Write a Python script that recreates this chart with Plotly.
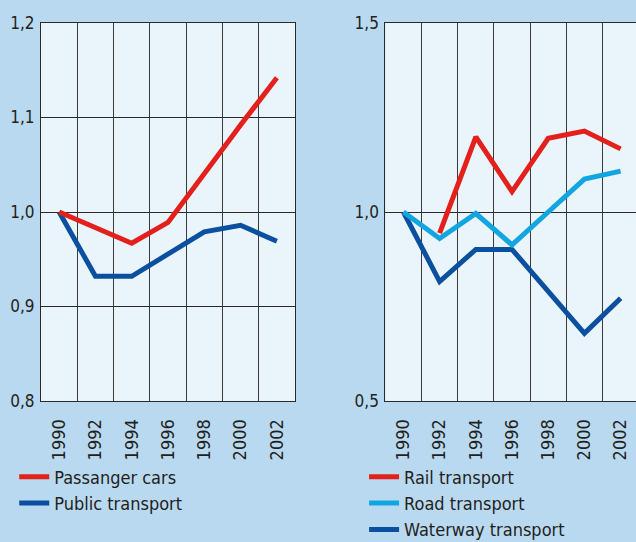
import plotly.graph_objects as go
from plotly.subplots import make_subplots

years = [1990, 1992, 1994, 1996, 1998, 2000, 2002]
year_labels = ['1990', '1992', '1994', '1996', '1998', '2000', '2002']
grid_years = [1989, 1991, 1993, 1995, 1997, 1999, 2001, 2003]

# left panel
passenger_cars = [1.0, 0.984, 0.967, 0.989, 1.041, 1.092, 1.142]
public_transport = [1.0, 0.932, 0.932, 0.956, 0.979, 0.986, 0.969]

# right panel
rail_transport = [None, 0.944, 1.199, 1.054, 1.195, 1.214, 1.167]
road_transport = [1.0, 0.930, 0.996, 0.913, 1.0, 1.087, 1.108]
waterway_transport = [1.0, 0.816, 0.901, 0.901, 0.790, 0.679, 0.772]

RED = '#e3201b'
DARK_BLUE = '#0b4f9f'
LIGHT_BLUE = '#12a6e0'
TEXT = '#231f20'
FONT = 'Liberation Sans Narrow, DejaVu Sans Condensed, Arial Narrow, sans-serif'

fig = make_subplots(rows=1, cols=2)

fig.add_trace(go.Scatter(x=years, y=public_transport, name='Public transport',
                         mode='lines', line=dict(color=DARK_BLUE, width=5),
                         legend='legend', legendrank=2), row=1, col=1)
fig.add_trace(go.Scatter(x=years, y=passenger_cars, name='Passanger cars',
                         mode='lines', line=dict(color=RED, width=5),
                         legend='legend', legendrank=1), row=1, col=1)

fig.add_trace(go.Scatter(x=years, y=waterway_transport, name='Waterway transport',
                         mode='lines', line=dict(color=DARK_BLUE, width=5),
                         legend='legend2', legendrank=3), row=1, col=2)
fig.add_trace(go.Scatter(x=years, y=road_transport, name='Road transport',
                         mode='lines', line=dict(color=LIGHT_BLUE, width=5),
                         legend='legend2', legendrank=2), row=1, col=2)
fig.add_trace(go.Scatter(x=years, y=rail_transport, name='Rail transport',
                         mode='lines', line=dict(color=RED, width=5),
                         legend='legend2', legendrank=1), row=1, col=2)

xcommon = dict(tickmode='array', tickvals=years, ticktext=year_labels,
               tickangle=-90, showgrid=False, zeroline=False,
               ticks='', ticklabelstandoff=10,
               tickfont=dict(size=18, color=TEXT),
               minor=dict(tickmode='array', tickvals=grid_years, showgrid=True,
                          gridcolor='#3a3a3a', gridwidth=1, ticks=''),
               showline=True, linecolor='#2a2a2a', linewidth=1)
ycommon = dict(showgrid=True, gridcolor='#2a2a2a', gridwidth=1, zeroline=False,
               ticks='', ticklabelstandoff=2, tickformat='.1f',
               tickfont=dict(size=17, color=TEXT),
               showline=True, linecolor='#2a2a2a', linewidth=1)

fig.update_xaxes(xcommon)
fig.update_yaxes(ycommon)

fig.update_xaxes(domain=[0, 0.4269], range=[1989, 2003], mirror=True, row=1, col=1)
fig.update_xaxes(domain=[0.5787, 1], range=[1989, 2002.85], mirror=True, row=1, col=2)
fig.update_yaxes(range=[0.8, 1.2], tickvals=[0.8, 0.9, 1.0, 1.1, 1.2],
                 mirror=True, row=1, col=1)
fig.update_yaxes(range=[0.5, 1.5], tickvals=[0.5, 1.0, 1.5],
                 mirror=False, row=1, col=2)

fig.update_layout(
    width=636, height=542,
    margin=dict(l=41, r=0, t=23, b=141, autoexpand=False),
    paper_bgcolor='#b9d9f1',
    plot_bgcolor='#e9f4fb',
    separators=', ',
    font=dict(family=FONT, color=TEXT),
    legend=dict(x=-0.045, y=-0.152, xanchor='left', yanchor='top',
                bgcolor='rgba(0,0,0,0)', font=dict(size=18, color=TEXT),
                tracegroupgap=0),
    legend2=dict(x=0.543, y=-0.152, xanchor='left', yanchor='top',
                 bgcolor='rgba(0,0,0,0)', font=dict(size=18, color=TEXT),
                 tracegroupgap=0),
)

fig.write_html("out.html", config={'displayModeBar': False},
               post_script="document.body.style.margin='0';")
